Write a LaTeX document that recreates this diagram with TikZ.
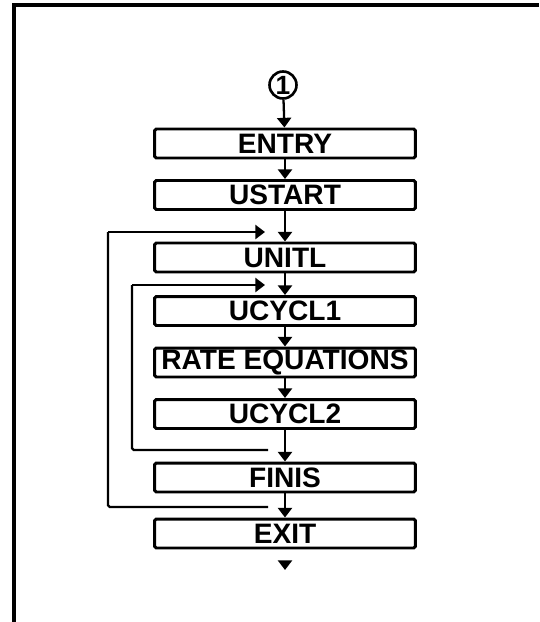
\documentclass[tikz,border=0pt]{standalone}
\usepackage{fontspec}
\setmainfont{Liberation Sans}
\usetikzlibrary{arrows.meta}

\begin{document}
\begin{tikzpicture}[
			x=0.02cm,
			y=-0.02cm,
			block/.style={
				draw,
				line width=1.7pt,
				rounded corners=1pt,
				minimum width=5.22cm,
				minimum height=0.58cm,
				inner sep=0pt,
				font=\fontsize{16}{16}\selectfont\bfseries
			},
			connector/.style={
				circle,
				draw,
				line width=1.5pt,
				minimum size=0.54cm,
				inner sep=0pt,
				font=\fontsize{15}{15}\selectfont\bfseries
			},
			flow/.style={
				line width=1.3pt,
				-{Triangle[width=8pt,length=5.5pt]}
			},
			feedback/.style={
				line width=1.4pt,
				rounded corners=1pt
			}
			]
			\useasboundingbox (0,0) rectangle (539,622);
			% frame
			\draw[line width=2pt] (14,622) -- (14,5) -- (539,5);
			
			\node[connector] (c1) at (283,85) {1};
			\node[block] (entry) at (285,143.5) {ENTRY};
			\node[block] (ustart) at (285,195) {USTART};
			\node[block] (unitl) at (285,257.5) {UNITL};
			\node[block] (ucycl1) at (285,311) {UCYCL1};
			\node[block] (rate) at (285,362.5) {RATE EQUATIONS};
			\node[block] (ucycl2) at (285,414) {UCYCL2};
			\node[block] (finis) at (285,477.5) {FINIS};
			\node[block] (exit) at (285,533.5) {EXIT};
			\coordinate (stop) at (285,570);
			
			\draw[flow] (c1) -- (entry);
			\draw[flow] (entry) -- (ustart);
			\draw[flow] (ustart) -- (unitl);
			\draw[flow] (unitl) -- (ucycl1);
			\draw[flow] (ucycl1) -- (rate);
			\draw[flow] (rate) -- (ucycl2);
			\draw[flow] (ucycl2) -- (finis);
			\draw[flow] (finis) -- (exit);
			\draw[flow, shorten <=11pt] (exit) -- (stop);
			
			% outer loop
			\coordinate (outA) at (268,507);
			\coordinate (outL) at (108,232);
			\coordinate (outB) at (265,232);
			\draw[feedback] (outA) -| (outL);
			\draw[flow] (outL) -- (outB);
			
			% inner loop
			\coordinate (inA) at (268,450);
			\coordinate (inL) at (132,285);
			\coordinate (inB) at (265,285);
			\draw[feedback] (inA) -| (inL);
			\draw[flow] (inL) -- (inB);
		\end{tikzpicture}
\end{document}
